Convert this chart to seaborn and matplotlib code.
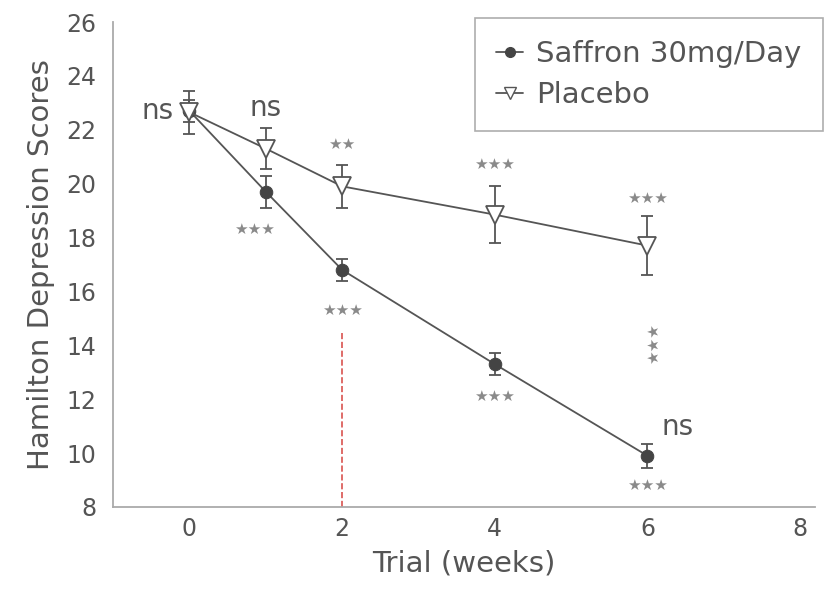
import matplotlib.pyplot as plt
import pandas as pd
import seaborn as sns

# data
weeks = [0, 1, 2, 4, 6]
saffron = [22.7, 19.7, 16.8, 13.3, 9.9]
saffron_err = [0.4, 0.6, 0.4, 0.4, 0.45]
placebo = [22.65, 21.3, 19.9, 18.85, 17.7]
placebo_err = [0.8, 0.75, 0.8, 1.05, 1.1]

# significance labels
ns_labels = [(-0.42, 22.7, "ns"), (1.0, 22.8, "ns"), (6.4, 10.95, "ns")]
star_labels = [
    (2.0, 21.45, "★★", 0), (4.0, 20.7, "★★★", 0),
    (6.0, 19.45, "★★★", 0), (0.85, 18.3, "★★★", 0),
    (2.0, 15.3, "★★★", 0), (4.0, 12.1, "★★★", 0),
    (6.0, 8.8, "★★★", 0), (6.08, 14.05, "★★★", 90),
]

df = pd.DataFrame({
    "week": weeks * 2,
    "score": saffron + placebo,
    "group": ["Saffron 30mg/Day"] * 5 + ["Placebo"] * 5,
})

sns.set_style("white")
plt.rcParams["font.family"] = ["DejaVu Sans"]
txt = "#555555"

fig = plt.figure(figsize=(8.32, 5.95), dpi=100)
ax = fig.add_axes([0.136, 0.148, 0.844, 0.815])

ax.errorbar(weeks, saffron, yerr=saffron_err, fmt="none", ecolor="#555555",
            elinewidth=1.3, capsize=4, capthick=1.3, zorder=2)
ax.errorbar(weeks, placebo, yerr=placebo_err, fmt="none", ecolor="#555555",
            elinewidth=1.3, capsize=4, capthick=1.3, zorder=2)

sns.lineplot(data=df, x="week", y="score", hue="group", style="group",
             palette={"Saffron 30mg/Day": "#555555", "Placebo": "#555555"},
             markers={"Saffron 30mg/Day": "o", "Placebo": "v"},
             dashes=False, linewidth=1.3, ax=ax, zorder=3, legend=False)

# restyle markers
for ln in ax.get_lines():
    if ln.get_marker() == "o":
        ln.set_markersize(9)
        ln.set_markerfacecolor("#444444")
        ln.set_markeredgecolor("#444444")
    elif ln.get_marker() == "v":
        ln.set_markersize(13)
        ln.set_markerfacecolor("white")
        ln.set_markeredgecolor("#555555")
        ln.set_markeredgewidth(1.3)

h1, = ax.plot([], [], color="#555555", marker="o", markersize=7,
              markerfacecolor="#444444", markeredgecolor="#444444", lw=1.3)
h2, = ax.plot([], [], color="#555555", marker="v", markersize=9,
              markerfacecolor="white", markeredgecolor="#555555", lw=1.3)
leg = ax.legend([h1, h2], ["Saffron 30mg/Day", "Placebo"], loc="upper right",
                bbox_to_anchor=(1.011, 1.008), borderaxespad=0, fontsize=21,
                frameon=True, fancybox=False, edgecolor="#999999",
                handlelength=0.9, handletextpad=0.45, borderpad=0.75,
                labelspacing=0.45, labelcolor=txt)
leg.get_frame().set_linewidth(1.2)

ax.plot([2, 2], [8, 14.5], color="#d9534f", ls="--", lw=1.2, zorder=1)

for x, y, s in ns_labels:
    ax.text(x, y, s, ha="center", va="center", fontsize=20, color="#555555")
for x, y, s, rot in star_labels:
    ax.text(x, y, s, ha="center", va="center", fontsize=11, color="#8a8a8a",
            rotation=rot)

ax.set_xlim(-1, 8.2)
ax.set_ylim(8, 26)
ax.set_xticks([0, 2, 4, 6, 8])
ax.set_yticks(range(8, 27, 2))
ax.set_xlabel("Trial (weeks)", fontsize=21, color=txt, labelpad=6)
ax.set_ylabel("Hamilton Depression Scores", fontsize=21, color=txt, labelpad=8)
ax.tick_params(axis="both", labelsize=17, colors=txt, length=4, width=1)
ax.tick_params(axis="y", length=0, pad=12)
for side in ["top", "right"]:
    ax.spines[side].set_visible(False)
for side in ["left", "bottom"]:
    ax.spines[side].set_color("#aaaaaa")
    ax.spines[side].set_linewidth(1.3)

fig.savefig("out.png", dpi=100)
